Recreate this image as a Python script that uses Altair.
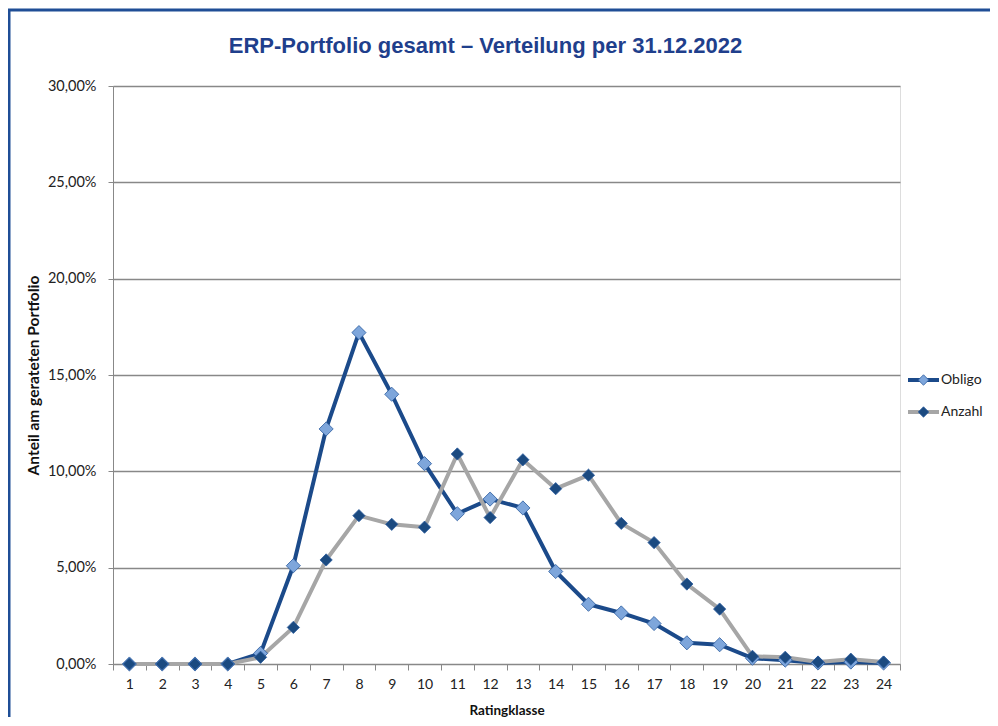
import altair as alt
import pandas as pd

klassen = list(range(1, 25))
obligo = [0.0, 0.0, 0.0, 0.0, 0.55, 5.1, 12.2, 17.2, 14.0, 10.4, 7.8, 8.56,
          8.1, 4.8, 3.1, 2.65, 2.1, 1.1, 1.0, 0.3, 0.2, 0.05, 0.1, 0.05]
anzahl = [0.0, 0.0, 0.0, 0.0, 0.35, 1.9, 5.4, 7.7, 7.25, 7.1, 10.9, 7.6,
          10.6, 9.1, 9.8, 7.3, 6.3, 4.15, 2.85, 0.4, 0.35, 0.1, 0.25, 0.1]
serien = ["Obligo", "Anzahl"]
linienfarben = ["#1B4A8A", "#A6A6A6"]
punktfarben = ["#7EA6DB", "#1B4A80"]
punktgroessen = [200, 150]
y_ticks = [0, 0.05, 0.10, 0.15, 0.20, 0.25, 0.30]
titel = "ERP-Portfolio gesamt – Verteilung per 31.12.2022"

rows = []
for i, k in enumerate(klassen):
    rows.append({"Ratingklasse": str(k), "Serie": "Obligo", "Wert": obligo[i] / 100, "ord": 0})
    rows.append({"Ratingklasse": str(k), "Serie": "Anzahl", "Wert": anzahl[i] / 100, "ord": 1})
df = pd.DataFrame(rows)

W, H = 787, 578
x_enc = alt.X("Ratingklasse:O", sort=[str(k) for k in klassen],
              scale=alt.Scale(type="band", paddingInner=0, paddingOuter=0),
              axis=alt.Axis(title="Ratingklasse", tickBand="extent", labelAngle=0,
                            grid=False, domain=True, domainColor="#888888",
                            tickColor="#888888", tickSize=6, labelPadding=7,
                            labelFont="Lato", labelFontSize=14, labelColor="#222222",
                            titleFont="Lato", titleFontSize=13.5, titleFontWeight="bold",
                            titleColor="#111111", titlePadding=12))
y_enc = alt.Y("Wert:Q", scale=alt.Scale(domain=[0, 0.30], nice=False),
              axis=alt.Axis(title="Anteil am gerateten Portfolio", values=y_ticks,
                            labelExpr="replace(format(datum.value, '.2%'), '.', ',')",
                            grid=True, gridColor="#888888", gridWidth=1.3,
                            domain=True, domainColor="#888888", tickColor="#888888",
                            tickSize=5, labelPadding=12,
                            labelFont="Lato", labelFontSize=14.5, labelColor="#222222",
                            titleFont="Lato", titleFontSize=15.5, titleFontWeight="bold",
                            titleColor="#111111", titlePadding=6))

lines = alt.Chart(df).mark_line(strokeWidth=4, strokeJoin="round").encode(
    x=x_enc, y=y_enc,
    stroke=alt.Stroke("Serie:N", scale=alt.Scale(domain=serien, range=linienfarben), legend=None),
    order="ord:Q",
)

points = alt.Chart(df).mark_point(shape="diamond", filled=True,
                                  stroke="#2B5C9E", strokeWidth=0.8, opacity=1).encode(
    x=x_enc, y=y_enc,
    fill=alt.Fill("Serie:N", scale=alt.Scale(domain=serien, range=punktfarben), legend=None),
    size=alt.Size("Serie:N", scale=alt.Scale(domain=serien, range=punktgroessen), legend=None),
)

# manual legend (line + diamond + label), Excel style
legend_layers = []
for i, name in enumerate(serien):
    ly = 294 + i * 32
    one = pd.DataFrame({"name": [name]})
    legend_layers.append(alt.Chart(one).mark_rule(strokeWidth=4, color=linienfarben[i], clip=False).encode(
        x=alt.value(795), x2=alt.value(826), y=alt.value(ly)))
    legend_layers.append(alt.Chart(one).mark_point(shape="diamond", filled=True, size=110,
                                                   color=punktfarben[i], stroke="#2B5C9E",
                                                   strokeWidth=0.8, opacity=1, clip=False).encode(
        x=alt.value(810.5), y=alt.value(ly)))
    legend_layers.append(alt.Chart(one).mark_text(font="Lato", fontSize=14, color="#222222",
                                                  align="left", baseline="middle", clip=False).encode(
        text="name:N", x=alt.value(828), y=alt.value(ly)))

titel_df = pd.DataFrame({"t": [titel]})
title_mark = alt.Chart(titel_df).mark_text(
    font="Liberation Sans", fontSize=22, fontWeight="bold", color="#1F3F8C",
    align="center", baseline="middle", clip=False
).encode(text="t:N", x=alt.value(W / 2 - 21), y=alt.value(-40))

frame = alt.Chart(pd.DataFrame({"f": [0]})).mark_rect(
    fill=None, stroke="#1F4E96", strokeWidth=3, clip=False
).encode(x=alt.value(-104), x2=alt.value(W + 200), y=alt.value(-76), y2=alt.value(H + 200))

chart = alt.layer(frame, title_mark, lines, points, *legend_layers).properties(
    width=W, height=H,
    autosize=alt.AutoSizeParams(type="none"),
    padding={"left": 105, "top": 78, "right": 90, "bottom": 53},
).configure_view(stroke=None).configure(background="white")

chart.save("out.html", embed_options={"renderer": "svg", "actions": False})
